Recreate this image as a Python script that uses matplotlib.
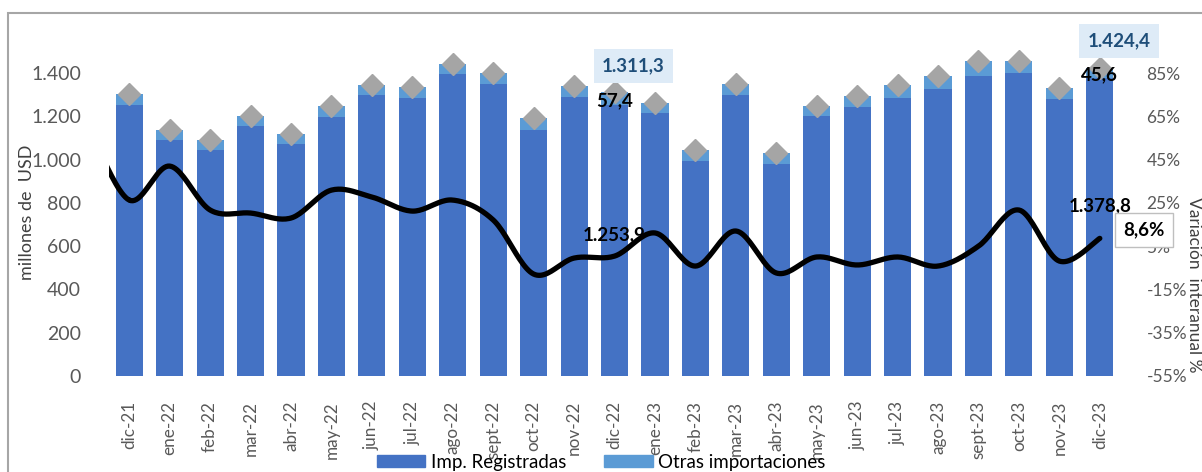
import numpy as np
import matplotlib
matplotlib.use("Agg")
import matplotlib.pyplot as plt
from matplotlib.patches import Rectangle, Patch

plt.rcParams['font.family'] = ['Lato', 'DejaVu Sans']

# months shown on the category axis
months = ['dic-21', 'ene-22', 'feb-22', 'mar-22', 'abr-22', 'may-22', 'jun-22',
          'jul-22', 'ago-22', 'sept-22', 'oct-22', 'nov-22', 'dic-22', 'ene-23',
          'feb-23', 'mar-23', 'abr-23', 'may-23', 'jun-23', 'jul-23', 'ago-23',
          'sept-23', 'oct-23', 'nov-23', 'dic-23']

# millones de USD
registradas = [1251, 1090, 1044, 1155, 1072, 1197, 1298, 1283, 1394, 1348, 1138,
               1289, 1253.9, 1215, 995, 1298, 981, 1200, 1245, 1286, 1326, 1388,
               1400, 1279, 1378.8]
otras = [51, 47, 46, 46, 45, 51, 47, 51, 48, 52, 54, 52, 57.4, 48, 48, 50, 48,
         48, 49, 59, 60, 66, 54, 50, 45.6]

# variacion interanual (%), first value is the month before dic-21 (clipped)
var_prev = 60
variacion = [26.3, 42.0, 21.7, 20.3, 18.0, 30.9, 27.7, 21.2, 26.3, 17.1, -7.9,
             -0.5, 0.4, 11.1, -4.2, 12.0, -7.4, 0.0, -3.7, 0.0, -4.2, 5.0, 21.7,
             -1.9, 8.6]

C_REG = '#4472C4'
C_OTR = '#5B9BD5'
C_TOT = '#A5A5A5'
C_TXT = '#595959'


def smooth_line(xs, ys, n=24):
    """Excel-like smoothed line (Catmull-Rom through the points)."""
    pts = np.column_stack([xs, ys]).astype(float)
    p = np.vstack([pts[0], pts, pts[-1]])
    t = np.linspace(0, 1, n)[:, None]
    segs = []
    for i in range(1, len(p) - 2):
        p0, p1, p2, p3 = p[i - 1], p[i], p[i + 1], p[i + 2]
        segs.append(0.5 * (2 * p1 + (-p0 + p2) * t
                           + (2 * p0 - 5 * p1 + 4 * p2 - p3) * t ** 2
                           + (-p0 + 3 * p1 - 3 * p2 + p3) * t ** 3))
    out = np.vstack(segs)
    return out[:, 0], out[:, 1]


def es_num(v):
    # 1234.5 -> "1.234,5"
    return f'{v:,.1f}'.replace(',', 'X').replace('.', ',').replace('X', '.')


fig = plt.figure(figsize=(12.02, 4.72), dpi=100)
ax = fig.add_axes([0.0907, 0.2034, 0.8411, 0.7152])
ax2 = ax.twinx()

x = np.arange(len(months))
reg = np.array(registradas)
otr = np.array(otras)
total = reg + otr

ax.bar(x, reg, width=0.67, color=C_REG, zorder=2)
ax.bar(x, otr, bottom=reg, width=0.67, color=C_OTR, zorder=2)
ax.plot(x, total, linestyle='none', marker='D', markersize=11,
        color=C_TOT, zorder=4)

ax.set_xlim(-0.5, len(months) - 0.5)
ax.set_ylim(0, 1560)
ax.set_yticks(range(0, 1401, 200))
ax.set_yticklabels([f'{v:,}'.replace(',', '.') for v in range(0, 1401, 200)])
ax.set_xticks(x)
ax.set_xticklabels(months, rotation=90)
ax.tick_params(axis='y', length=0, pad=20, labelsize=14, labelcolor=C_TXT)
ax.tick_params(axis='x', length=0, pad=18, labelsize=12.3, labelcolor=C_TXT)
for s in ax.spines.values():
    s.set_visible(False)
ax.set_ylabel('millones de  USD', fontsize=13, color='#404040', va='center')
ax.yaxis.set_label_coords(-0.081, 0.485)

# secondary axis for the year-on-year change
lx, ly = smooth_line(np.concatenate([[-1], x]), [var_prev] + variacion)
ax2.plot(lx, ly, color='black', linewidth=3.8, solid_capstyle='round', zorder=5)
ax2.set_ylim(-55, 101)
ax2.set_yticks(range(-55, 86, 20))
ax2.set_yticklabels([f'{v}%' for v in range(-55, 86, 20)])
ax2.tick_params(axis='y', length=0, pad=19, labelsize=12.5, labelcolor=C_TXT)
for s in ax2.spines.values():
    s.set_visible(False)
ax2.set_ylabel('Variación  interanual %', fontsize=12.5, color='#404040',
               rotation=270, va='center', ha='center')
ax2.yaxis.set_label_coords(1.073, 0.27)
ax.set_zorder(ax2.get_zorder() - 1)
ax.patch.set_visible(False)

# data labels
i_a, i_b = 12, len(months) - 1
box_kw = dict(boxstyle='square,pad=0.45', fc='#DEEBF7', ec='none')
lbl = dict(ha='center', va='center', fontsize=13.5, fontweight='bold', zorder=8)
ax2.text(i_a + 0.47, total[i_a] / 10 - 55 + 12.2, es_num(total[i_a]),
         color='#1F4E79', bbox=box_kw, **lbl)
ax2.text(i_b + 0.47, total[i_b] / 10 - 55 + 12.4, es_num(total[i_b]),
         color='#1F4E79', bbox=box_kw, clip_on=False, **lbl)
for i, dy in [(i_a, -4.0), (i_b, -3.3)]:
    ax2.text(i, total[i] / 10 - 55 + dy, f'{otr[i]:.1f}'.replace('.', ','),
             color='black', **lbl)
ax2.text(i_a, 10.2, es_num(reg[i_a]), color='black', **lbl)
ax2.text(i_b, 23.6, es_num(reg[i_b]), color='black', clip_on=False, **lbl)
ax2.text(i_b + 1.09, 12.5, f'{variacion[-1]:.1f}%'.replace('.', ','),
         color='black', clip_on=False,
         bbox=dict(boxstyle='square,pad=0.45', fc='white', ec='#BFBFBF', lw=1),
         **lbl)

# legend
handles = [Patch(color=C_REG, label='Imp. Registradas'),
           Patch(color=C_OTR, label='Otras importaciones')]
fig.legend(handles=handles, loc='center', bbox_to_anchor=(0.5, 0.021), ncol=2,
           frameon=False, fontsize=13.5, handlelength=2.6, handleheight=0.6,
           handletextpad=0.3, columnspacing=2.0, borderaxespad=0)

# outer chart frame (cut by the image edges)
fig.patches.append(Rectangle((8 / 1202, -0.05), 1.0, 0.9725 + 0.05,
                             transform=fig.transFigure, fill=False,
                             ec='#A6A6A6', lw=1.5))

fig.savefig('out.png', dpi=100)
